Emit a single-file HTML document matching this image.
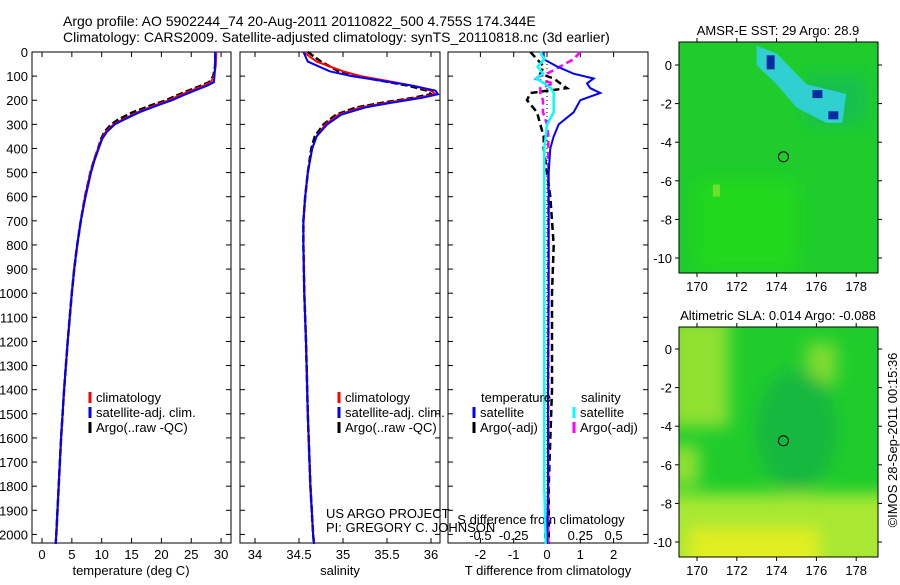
<!DOCTYPE html>
<html><head><meta charset="utf-8"><style>
body{margin:0;background:#fff;width:900px;height:580px;overflow:hidden;font-family:"Liberation Sans",sans-serif}
svg text{font-family:"Liberation Sans",sans-serif}
</style></head><body>
<svg id="fig" width="900" height="580" xmlns="http://www.w3.org/2000/svg">
<defs><filter id="bl" x="-20%" y="-20%" width="140%" height="140%"><feGaussianBlur stdDeviation="8"/></filter>
<clipPath id="c1"><rect x="679" y="42" width="199" height="231"/></clipPath>
<clipPath id="c2"><rect x="679" y="327" width="199" height="230"/></clipPath></defs>
<rect x="0" y="0" width="900" height="580" fill="#fff"/>
<text x="63" y="26" font-size="14">Argo profile: AO 5902244_74 20-Aug-2011 20110822_500 4.755S 174.344E</text>
<text x="63" y="42" font-size="14">Climatology: CARS2009. Satellite-adjusted climatology: synTS_20110818.nc (3d earlier)</text>
<g id="g"></g>
</svg>
<script>
// ---- data ----
const depthTicks=[0,100,200,300,400,500,600,700,800,900,1000,1100,1200,1300,1400,1500,1600,1700,1800,1900,2000];
const tempTicks=[0,5,10,15,20,25,30];
const salTicks=[34,34.5,35,35.5,36];
const diffTTicks=[-2,-1,0,1,2];
const diffSTickLabels=["-0.5","-0.25","0","0.25","0.5"];
const tDepths=[0,60,100,125,140,160,180,200,220,250,280,300,330,360,400,450,500,600,700,800,900,1000,1200,1400,1600,1800,2000,2040];
const tClim=[29.2,29.1,28.8,28.3,27,25,23,21.3,19,16,13.5,12,10.7,10,9.4,8.7,8.1,7.2,6.5,5.9,5.4,5.0,4.3,3.7,3.2,2.8,2.4,2.3];
const tSat=[29.0,29.0,28.9,28.8,27.6,25.6,23.6,21.8,19.5,16.3,13.8,12.2,10.9,10.1,9.5,8.8,8.2,7.3,6.5,5.9,5.4,5.0,4.3,3.7,3.2,2.8,2.4,2.3];
const tArgo=[29.1,29.0,28.7,28.0,26.6,24.5,22.6,20.8,18.4,15.2,12.8,11.6,10.5,9.9,9.4,8.7,8.1,7.2,6.5,5.9,5.4,5.0,4.3,3.7,3.2,2.8,2.4,2.3];
const sDepths=[0,40,80,100,120,140,160,175,190,210,230,260,300,350,400,500,600,700,800,1000,1200,1500,1800,2000,2040];
const sClim=[34.55,34.7,35.0,35.2,35.5,35.8,36.0,36.05,35.85,35.5,35.2,34.95,34.8,34.7,34.65,34.6,34.57,34.55,34.55,34.56,34.58,34.6,34.63,34.66,34.67];
const sSat=[34.55,34.6,34.85,35.1,35.45,35.8,36.05,36.08,35.9,35.55,35.25,34.98,34.82,34.7,34.65,34.6,34.57,34.55,34.55,34.56,34.58,34.6,34.63,34.66,34.67];
const sArgo=[34.6,34.75,34.95,35.15,35.45,35.75,35.95,36.0,35.8,35.45,35.15,34.92,34.78,34.68,34.64,34.6,34.57,34.55,34.55,34.56,34.58,34.6,34.63,34.66,34.67];
const dDepths=[0,30,60,90,110,130,150,170,200,250,300,350,400,500,600,800,1000,1400,1800,2040];
const dTsat=[-0.1,-0.1,0.3,0.8,1.4,1.2,1.3,1.6,1.0,0.8,0.35,0.2,0.1,0.05,0.05,0.05,0.05,0.03,0.03,0.0];
const dTargo=[-0.5,-0.3,-0.1,-0.2,0.2,0.4,0.6,-0.5,-0.6,-0.3,-0.2,-0.1,-0.1,0.0,0.1,0.2,0.15,0.15,0.05,0.05];
const dSsat=[-0.05,-0.02,-0.07,-0.03,-0.08,-0.02,0.03,0.05,0.05,0.05,0.0,-0.01,-0.02,-0.02,-0.02,-0.02,-0.02,-0.02,-0.02,-0.01];
const dSargo=[0.25,0.2,0.1,0.0,-0.1,0.05,-0.05,-0.05,-0.03,-0.03,0.0,0.01,0.01,0.01,0.01,0.01,0.01,0.01,0.01,0.01];
const lonTicks=[170,172,174,176,178];
const latTicks=[0,-2,-4,-6,-8,-10];

const NS="http://www.w3.org/2000/svg";
const G=document.getElementById('g');
function mk(t,a,p){const e=document.createElementNS(NS,t);for(const k in a)e.setAttribute(k,a[k]);(p||G).appendChild(e);return e;}
const PT=52,PB=543;
const yD=d=>PT+d*0.2412;
const panels=[{x0:32,x1:231},{x0:240,x1:440},{x0:448,x1:648}];
const xT=v=>42+v*5.97;
const xS=v=>255+(v-34)*88;
const xDT=v=>547+v*33.3;
const xDS=v=>547+v*133.2;

panels.forEach((p,i)=>{
  const f=mk('rect',{x:p.x0,y:PT,width:p.x1-p.x0,height:PB-PT,fill:'none',stroke:'#000'});
  
  
  depthTicks.forEach(d=>{
    mk('line',{x1:p.x0,x2:p.x0+5,y1:yD(d),y2:yD(d),stroke:'#000'});
    mk('line',{x1:p.x1,x2:p.x1-5,y1:yD(d),y2:yD(d),stroke:'#000'});
  });
});
depthTicks.forEach(d=>{
  const t=mk('text',{x:28,y:yD(d)+5,'font-size':13,'text-anchor':'end'});t.textContent=d;
  
  
});
function xticks(vals,labels,fx,y0,ty){
  vals.forEach((v,i)=>{const x=fx(v);
    mk('line',{x1:x,x2:x,y1:PB,y2:PB-5,stroke:'#000'});
    mk('line',{x1:x,x2:x,y1:PT,y2:PT+5,stroke:'#000'});
    const t=mk('text',{x:x,y:ty,'font-size':13,'text-anchor':'middle'});t.textContent=labels[i];
    
    
  });
}
xticks(tempTicks,tempTicks,xT,PB,559);
xticks(salTicks,salTicks,xS,PB,559);
xticks(diffTTicks,diffTTicks,xDT,PB,559);
function lbl(x,y,s,n,anchor){const t=mk('text',{x:x,y:y,'font-size':13,'text-anchor':anchor||'middle'});t.textContent=s;
  
  return t;}
lbl(131,575,'temperature (deg C)','x-axis-title-temperature');
lbl(340,575,'salinity','x-axis-title-salinity');
lbl(548,575,'T difference from climatology','x-axis-title-t-diff');
lbl(541,524,'S difference from climatology','x-axis-title-s-diff');
diffSTickLabels.forEach((s,i)=>{const v=[-0.5,-0.25,0,0.25,0.5][i];lbl(xDS(v),540,s,'s-diff-tick-label');});
lbl(326,518,'US ARGO PROJECT','credit-project','start');
lbl(326,532,'PI: GREGORY C. JOHNSON','credit-pi','start');

function line(ds,vs,fx,col,w,dash,name){
  const pts=ds.map((d,i)=>fx(vs[i]).toFixed(1)+','+yD(d).toFixed(1)).join(' ');
  const a={points:pts,fill:'none',stroke:col,'stroke-width':w};if(dash)a['stroke-dasharray']=dash;
  const e=mk('polyline',a);
  
  
}
line(tDepths,tArgo,xT,'#000',2.5,'7,3','temp-argo-line');
line(tDepths,tClim,xT,'#f00',2,'','temp-climatology-line');
line(tDepths,tSat,xT,'#00f',2,'','temp-satellite-line');
line(sDepths,sArgo,xS,'#000',2.5,'7,3','sal-argo-line');
line(sDepths,sClim,xS,'#f00',2,'','sal-climatology-line');
line(sDepths,sSat,xS,'#00f',2,'','sal-satellite-line');
mk('line',{x1:547,x2:547,y1:PT,y2:PB,stroke:'#000','stroke-dasharray':'1,3'});
line(dDepths,dTargo,xDT,'#000',2.5,'7,4','tdiff-argo-line');
line(dDepths,dSargo,xDS,'#f0f',2.5,'7,4','sdiff-argo-line');
line(dDepths,dTsat,xDT,'#00f',2,'','tdiff-satellite-line');
line(dDepths,dSsat,xDS,'#0ff',2.5,'','sdiff-satellite-line');

function legend(x,y,items,prefix){
  items.forEach((it,i)=>{
    mk('line',{x1:x,x2:x,y1:y+i*15-10,y2:y+i*15+1,stroke:it[1],'stroke-width':3});
    lbl(x+6,y+i*15,it[0],prefix+'-legend-entry','start');
  });
}
legend(90,402,[['climatology','#f00'],['satellite-adj. clim.','#00f'],['Argo(..raw -QC)','#000']],'temp');
legend(339,402,[['climatology','#f00'],['satellite-adj. clim.','#00f'],['Argo(..raw -QC)','#000']],'sal');
lbl(481,402,'temperature','diff-legend-header-t','start');
lbl(581,402,'salinity','diff-legend-header-s','start');
legend(474,417,[['satellite','#00f'],['Argo(-adj)','#000']],'tdiff');
legend(574,417,[['satellite','#0ff'],['Argo(-adj)','#f0f']],'sdiff');

// ---- maps ----
function map(y0,y1,lat0y,latScale,title,name,sla){
  const x0=679,x1=878;
  const lx=v=>697+(v-170)*19.9, ly=v=>lat0y-v*latScale;
  const g=mk('g',{});
  
  
  const inner=mk('g',{'clip-path':sla?'url(#c2)':'url(#c1)'},g);
  mk('rect',{x:x0,y:y0,width:x1-x0,height:y1-y0,fill:'#1fcc2c'},inner);
  if(!sla){
    const b=mk('g',{filter:'url(#bl)'},inner);
    mk('rect',{x:lx(170),y:ly(-6),width:100,height:90,fill:'#24d81e'},b);
    mk('rect',{x:lx(175.5),y:ly(-0.5),width:60,height:50,fill:'#18c050'},b);
    mk('polygon',{points:[[173,1],[174,0.6],[175.5,-1.0],[177.5,-1.5],[177.3,-3],[176.5,-3],[175,-2.2],[174,-1],[173,0]].map(p=>lx(p[0])+','+ly(p[1])).join(' '),fill:'#30d0d0'},inner);
    mk('rect',{x:lx(173.5),y:ly(0.5),width:8,height:14,fill:'#0a2aa0'},inner);
    mk('rect',{x:lx(175.8),y:ly(-1.3),width:10,height:8,fill:'#0a2aa0'},inner);
    mk('rect',{x:lx(176.6),y:ly(-2.4),width:10,height:8,fill:'#0a2aa0'},inner);
    mk('rect',{x:lx(170.8),y:ly(-6.2),width:7,height:12,fill:'#70e030'},inner);
  } else {
    const b=mk('g',{filter:'url(#bl)'},inner);
    mk('rect',{x:x0-20,y:ly(-7.5),width:x1-x0+40,height:80,fill:'#a8e830'},b);
    mk('rect',{x:x0+10,y:ly(-9.3),width:130,height:60,fill:'#e0ee20'},b);
    mk('rect',{x:x0-10,y:y0-10,width:60,height:110,fill:'#90e030'},b);
    mk('rect',{x:x0-10,y:ly(-5),width:30,height:40,fill:'#90e030'},b);
    mk('rect',{x:lx(175.5),y:ly(0.3),width:30,height:40,fill:'#80dc30'},b);
    mk('ellipse',{cx:lx(175),cy:ly(-4.2),rx:40,ry:60,fill:'#18b840'},b);
  }
  mk('circle',{cx:lx(174.344),cy:ly(-4.755),r:5,fill:'none',stroke:'#000'},g);
  mk('rect',{x:x0,y:y0,width:x1-x0,height:y1-y0,fill:'none',stroke:'#000'},g);
  latTicks.forEach(v=>{const y=ly(v);
    mk('line',{x1:x0-4,x2:x0,y1:y,y2:y,stroke:'#000'},g);
    mk('line',{x1:x1,x2:x1+4,y1:y,y2:y,stroke:'#000'},g);
    const t=mk('text',{x:672,y:y+5,'font-size':13,'text-anchor':'end'},g);t.textContent=v;
    
    
  });
  lonTicks.forEach(v=>{const x=lx(v);
    mk('line',{x1:x,x2:x,y1:y0-4,y2:y0,stroke:'#000'},g);
    mk('line',{x1:x,x2:x,y1:y1,y2:y1+4,stroke:'#000'},g);
    const t=mk('text',{x:x,y:y1+18,'font-size':13,'text-anchor':'middle'},g);t.textContent=v;
    
    
  });
  const t=mk('text',{x:778,y:y0-7,'font-size':13,'text-anchor':'middle'},g);t.textContent=title;
  
  
}
map(42,273,65,19.3,'AMSR-E SST: 29 Argo: 28.9','sst-map',false);
map(327,557,349,19.3,'Altimetric SLA: 0.014 Argo: -0.088','sla-map',true);
const ts=mk('text',{x:0,y:0,'font-size':13,'text-anchor':'middle',transform:'translate(897,440) rotate(-90)'});
ts.textContent='©IMOS 28-Sep-2011 00:15:36';


</script>
</body></html>
